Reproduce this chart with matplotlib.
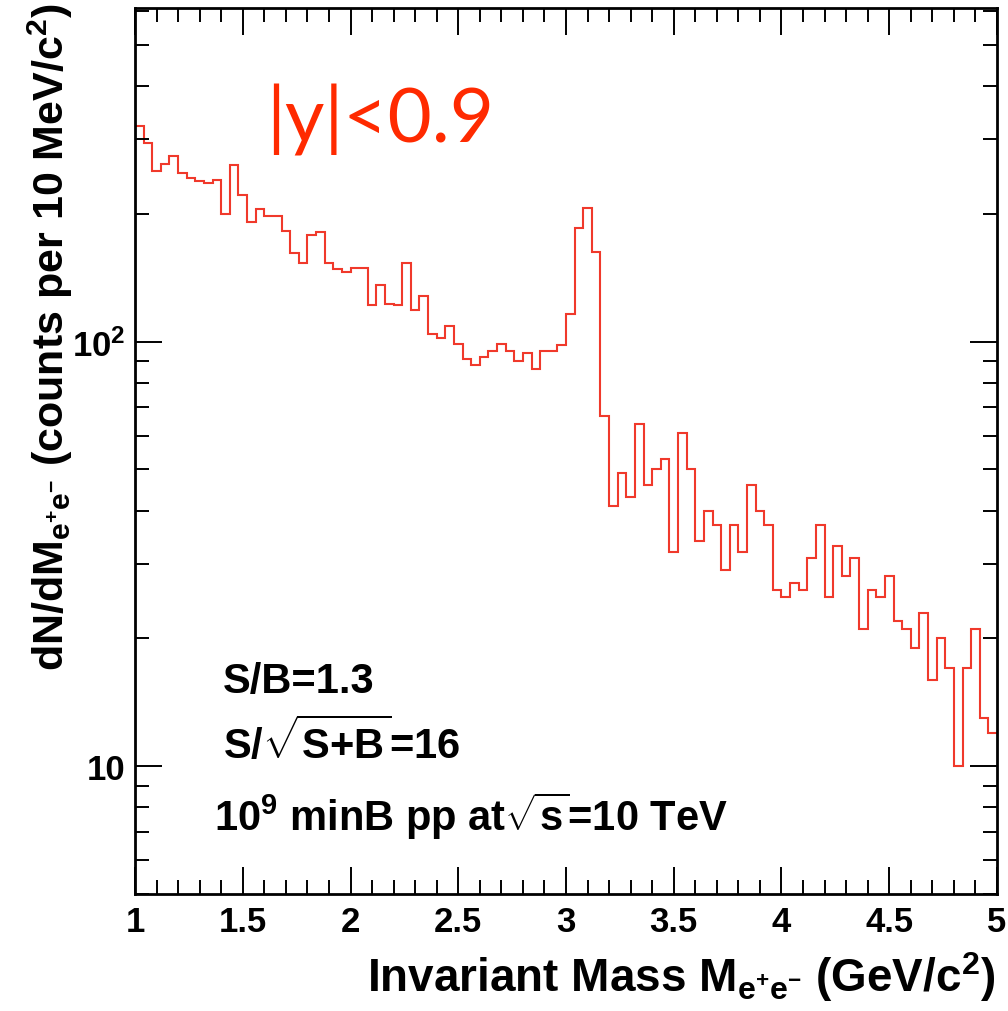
"""
J/psi -> e+e- invariant mass spectrum, |y|<0.9, log scale
"""
import numpy as np
import matplotlib
matplotlib.use("Agg")
import matplotlib.pyplot as plt
from matplotlib.ticker import MultipleLocator, LogLocator, NullFormatter, FixedLocator, FixedFormatter

plt.rcParams["font.family"] = ["Liberation Sans", "DejaVu Sans"]
plt.rcParams["mathtext.fontset"] = "custom"
plt.rcParams["mathtext.rm"] = "Liberation Sans:bold"
plt.rcParams["mathtext.bf"] = "Liberation Sans:bold"
plt.rcParams["mathtext.it"] = "Liberation Sans:bold"

# histogram range (GeV/c^2) and bin contents
MASS_LO, MASS_HI, N_BINS = 1.0, 5.0, 100
COUNTS = [
    322, 294, 252, 262, 274, 249, 243, 239, 236, 241,
    200, 261, 222, 191, 205, 198, 198, 182, 162, 153,
    178, 181, 153, 148, 146, 149, 149, 122, 136, 123,
    122, 153, 119, 128, 104, 102, 109, 99, 91, 88,
    92, 95, 99, 95, 90, 94, 86, 95, 95, 98,
    116, 185, 207, 163, 67, 41, 49, 43, 64, 46,
    50, 53, 32, 61, 50, 34, 40, 37, 29, 37,
    32, 46, 40, 37, 26, 25, 27, 26, 31, 37,
    25, 33, 28, 31, 21, 26, 25, 28, 22, 21,
    19, 23, 16, 20, 17, 10, 17, 21, 13, 12,
]
Y_MIN, Y_MAX = 5, 610
X_TICKS = [1, 1.5, 2, 2.5, 3, 3.5, 4, 4.5, 5]
X_TICKLABELS = ["1", "1.5", "2", "2.5", "3", "3.5", "4", "4.5", "5"]

HIST_COLOR = "#f0392b"
RAP_COLOR = "#ff2a00"

fig = plt.figure(figsize=(10.08, 10.12), dpi=100)
ax = fig.add_axes([135 / 1008, 1 - 895 / 1012, (997 - 135) / 1008, (895 - 9.3) / 1012])

edges = np.linspace(MASS_LO, MASS_HI, N_BINS + 1)
ax.stairs(COUNTS, edges, color=HIST_COLOR, linewidth=1.5, baseline=None)

ax.set_yscale("log")
ax.set_xlim(MASS_LO, MASS_HI)
ax.set_ylim(Y_MIN, Y_MAX)

# ── ticks (ROOT-like: inward, on all four sides) ─────────────────────────────
ax.set_xticks(X_TICKS)
ax.set_xticklabels(X_TICKLABELS)
ax.xaxis.set_minor_locator(MultipleLocator(0.1))
ax.yaxis.set_major_locator(FixedLocator([10, 100]))
ax.yaxis.set_major_formatter(FixedFormatter(["10", r"$\mathbf{10^2}$"]))
ax.yaxis.set_minor_locator(LogLocator(base=10, subs=np.arange(2, 10)))
ax.yaxis.set_minor_formatter(NullFormatter())

ax.tick_params(which="both", direction="in", top=True, right=True, width=1.4,
               labelsize=25)
ax.tick_params(which="major", length=19.5)
ax.tick_params(which="minor", length=10)
ax.tick_params(axis="x", pad=8)
ax.tick_params(axis="y", pad=7)
for lab in ax.get_xticklabels() + ax.get_yticklabels():
    lab.set_fontweight("bold")
for sp in ax.spines.values():
    sp.set_linewidth(2)

# ── axis titles ──────────────────────────────────────────────────────────────
fig.text(995 / 1008, 1 - 977 / 1012,
         r"Invariant Mass M$_{\mathbf{e^{+}e^{-}}}$ (GeV/c$^{\mathbf{2}}$)",
         ha="right", va="center", fontsize=33, fontweight="bold")
fig.text(50 / 1008, 1 - 3 / 1012,
         r"dN/dM$_{\mathbf{e^{+}e^{-}}}$ (counts per 10 MeV/c$^{\mathbf{2}}$)",
         ha="center", va="top", rotation=90, fontsize=31, fontweight="bold")

# ── annotations ──────────────────────────────────────────────────────────────
fig.text(266 / 1008, 1 - 120 / 1012, "|y|<0.9",
         ha="left", va="center", fontsize=55, color=RAP_COLOR, family="Lato")
fig.text(223 / 1008, 1 - 693 / 1012, "S/B=1.3",
         ha="left", va="baseline", fontsize=30, fontweight="bold")
fig.text(223 / 1008, 1 - 759 / 1012, r"S/$\sqrt{\mathbf{S{+}B}}$=16",
         ha="left", va="baseline", fontsize=30, fontweight="bold")
fig.text(214 / 1008, 1 - 831 / 1012, r"10$^{\mathbf{9}}$ minB pp at$\sqrt{\mathbf{s}}$=10 TeV",
         ha="left", va="baseline", fontsize=30, fontweight="bold")

fig.savefig("out.png", dpi=100)
